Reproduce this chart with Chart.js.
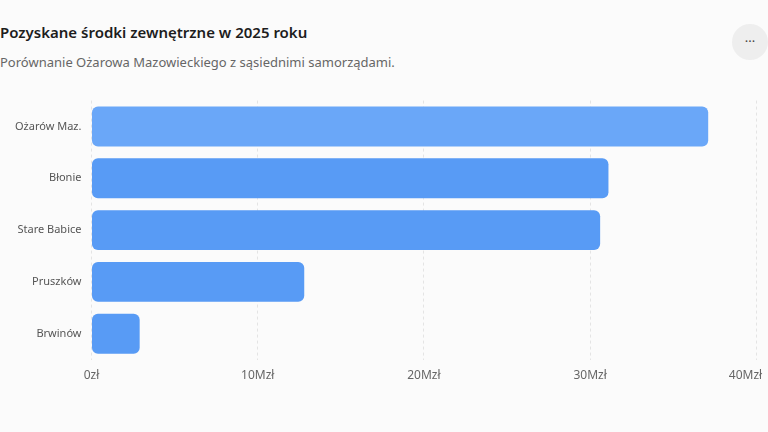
<!DOCTYPE html>
<html lang="pl">
<head>
    <meta charset="utf-8">
    <title>Pozyskane środki zewnętrzne</title>
    <script src="https://cdn.jsdelivr.net/npm/chart.js@4.4.8/dist/chart.umd.min.js"></script>
    <style>
        html, body { margin: 0; padding: 0; background: #fbfbfb; width: 768px; height: 432px; overflow: hidden; font-family: "Noto Sans", "Open Sans", sans-serif; }
        #title { position: absolute; left: 0; top: 22px; font-size: 15px; font-weight: 600; color: #1d1d1d; }
        #subtitle { position: absolute; left: 0; top: 53px; font-size: 13px; color: #666; }
        #menu { position: absolute; left: 732px; top: 24px; width: 36px; height: 36px; border-radius: 50%; background: #eeeeee; color: #444; font-size: 13px; text-align: center; line-height: 34px; }
        #wrap { position: absolute; left: 0; top: 84px; width: 793px; height: 308px; }
    </style>
</head>
<body>
    <div id="title">Pozyskane środki zewnętrzne w 2025 roku</div>
    <div id="subtitle">Porównanie Ożarowa Mazowieckiego z sąsiednimi samorządami.</div>
    <div id="menu">···</div>
    <div id="wrap"><canvas id="chart"></canvas></div>

    <script>
        // dane w mln zł
        const gminy = ['Ożarów Maz.', 'Błonie', 'Stare Babice', 'Pruszków', 'Brwinów'];
        const srodki = [37.1, 31.1, 30.6, 12.8, 2.9];
        const kolory = ['#6aa7f8', '#589bf5', '#589bf5', '#589bf5', '#589bf5'];
        const maxX = 40;

        const ctx = document.getElementById('chart').getContext('2d');
        new Chart(ctx, {
            type: 'bar',
            data: {
                labels: gminy,
                datasets: [{
                    data: srodki,
                    backgroundColor: kolory,
                    borderRadius: 6,
                    borderSkipped: false,
                    barPercentage: 0.77,
                    categoryPercentage: 1
                }]
            },
            options: {
                indexAxis: 'y',
                responsive: true,
                maintainAspectRatio: false,
                animation: false,
                events: [],
                layout: { padding: { top: 2, left: 5, right: 0, bottom: 0 } },
                plugins: {
                    legend: { display: false },
                    tooltip: { enabled: false }
                },
                scales: {
                    x: {
                        min: 0,
                        max: maxX,
                        border: { display: false, dash: [3, 3] },
                        grid: { color: '#e4e4e4', drawTicks: false },
                        ticks: {
                            stepSize: 10,
                            padding: 9,
                            color: '#666',
                            font: { size: 12, family: 'Noto Sans' },
                            // ostatnia etykieta przesunięta w lewo, żeby się zmieściła
                            callback: v => v === 0 ? '0zł' : v === maxX ? v + 'Mzł' + '\u00a0'.repeat(7) : v + 'Mzł'
                        }
                    },
                    y: {
                        border: { display: false },
                        grid: { display: false, drawTicks: false },
                        ticks: {
                            padding: 10,
                            color: '#555',
                            font: { size: 11, family: 'Noto Sans' }
                        }
                    }
                }
            }
        });
    </script>
</body>
</html>
